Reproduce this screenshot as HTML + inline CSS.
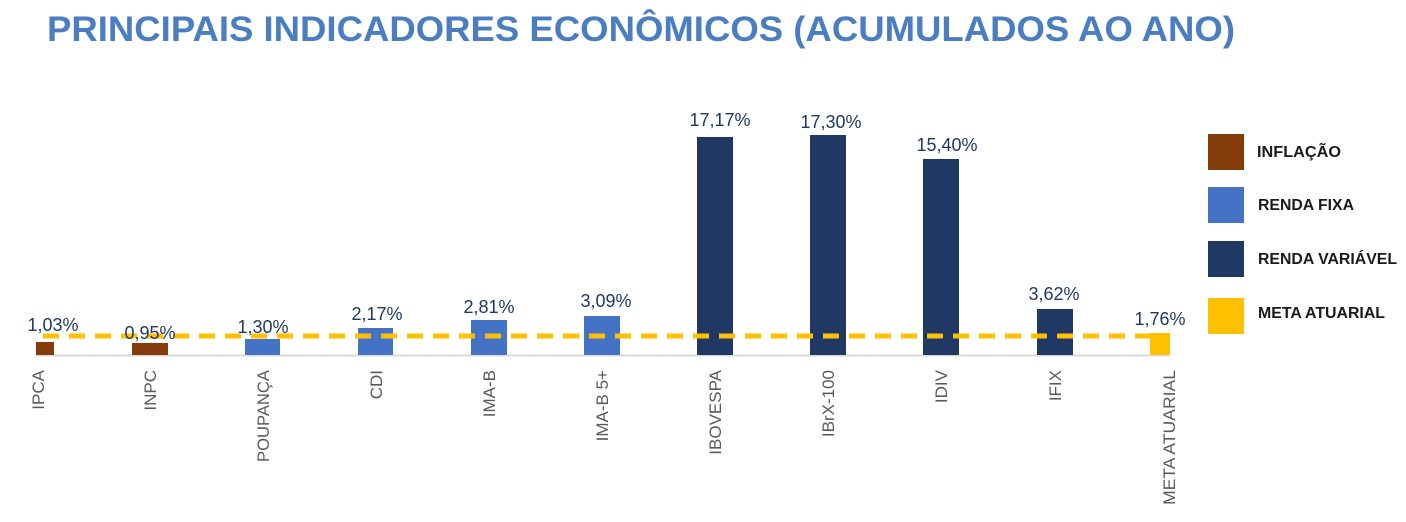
<!DOCTYPE html>
<html><head><meta charset="utf-8"><style>body{margin:0;background:#fff}svg{display:block}</style></head><body>
<svg width="1406" height="522" xmlns="http://www.w3.org/2000/svg" font-family="Liberation Sans, sans-serif">
<text x="47" y="41" font-size="35" font-weight="bold" fill="#4A7EC1" textLength="1188" lengthAdjust="spacingAndGlyphs">PRINCIPAIS INDICADORES ECONÔMICOS (ACUMULADOS AO ANO)</text>
<line x1="36" y1="355.5" x2="1169" y2="355.5" stroke="#d9d9d9" stroke-width="2"/>
<g>
<rect x="36" y="342" width="18" height="13" fill="#843C0C"/>
<rect x="132" y="343" width="36" height="12" fill="#843C0C"/>
<rect x="245" y="339" width="35" height="16" fill="#4472C4"/>
<rect x="358" y="328" width="35" height="27" fill="#4472C4"/>
<rect x="471" y="320" width="36" height="35" fill="#4472C4"/>
<rect x="584" y="316" width="36" height="39" fill="#4472C4"/>
<rect x="697" y="137" width="36" height="218" fill="#203864"/>
<rect x="810" y="135" width="36" height="220" fill="#203864"/>
<rect x="923" y="159" width="36" height="196" fill="#203864"/>
<rect x="1037" y="309" width="36" height="46" fill="#203864"/>
<rect x="1150" y="333" width="20" height="22" fill="#FFC000"/>
</g>
<line x1="43" y1="336" x2="1150" y2="336" stroke="#FFC000" stroke-width="5" stroke-dasharray="16,10"/>
<g font-size="18" fill="#1F3864" text-anchor="middle">
<text x="53" y="331">1,03%</text>
<text x="150" y="339">0,95%</text>
<text x="263" y="333">1,30%</text>
<text x="377" y="320">2,17%</text>
<text x="489" y="313">2,81%</text>
<text x="606" y="307">3,09%</text>
<text x="720" y="126">17,17%</text>
<text x="831" y="128">17,30%</text>
<text x="947" y="151">15,40%</text>
<text x="1054" y="300">3,62%</text>
<text x="1160" y="325">1,76%</text>
</g>
<g font-size="17" fill="#595959" text-anchor="end">
<text transform="translate(44,370) rotate(-90)">IPCA</text>
<text transform="translate(156,370) rotate(-90)">INPC</text>
<text transform="translate(269,370) rotate(-90)" textLength="92" lengthAdjust="spacingAndGlyphs">POUPANÇA</text>
<text transform="translate(382,370) rotate(-90)">CDI</text>
<text transform="translate(495,370) rotate(-90)">IMA-B</text>
<text transform="translate(608,370) rotate(-90)">IMA-B 5+</text>
<text transform="translate(721,370) rotate(-90)">IBOVESPA</text>
<text transform="translate(834,370) rotate(-90)">IBrX-100</text>
<text transform="translate(947,370) rotate(-90)">IDIV</text>
<text transform="translate(1061,370) rotate(-90)">IFIX</text>
<text transform="translate(1175,370) rotate(-90)" textLength="135" lengthAdjust="spacingAndGlyphs">META ATUARIAL</text>
</g>
<rect x="1208" y="134" width="36" height="36" fill="#843C0C"/>
<rect x="1208" y="187" width="36" height="36" fill="#4472C4"/>
<rect x="1208" y="241" width="36" height="36" fill="#203864"/>
<rect x="1208" y="298" width="36" height="36" fill="#FFC000"/>
<g font-size="15.5" font-weight="bold" fill="#1a1a1a">
<text x="1257" y="157" textLength="84" lengthAdjust="spacingAndGlyphs">INFLAÇÃO</text>
<text x="1258" y="210" textLength="96" lengthAdjust="spacingAndGlyphs">RENDA FIXA</text>
<text x="1258" y="264" textLength="139" lengthAdjust="spacingAndGlyphs">RENDA VARIÁVEL</text>
<text x="1258" y="318" textLength="127" lengthAdjust="spacingAndGlyphs">META ATUARIAL</text>
</g>
</svg>
</body></html>
